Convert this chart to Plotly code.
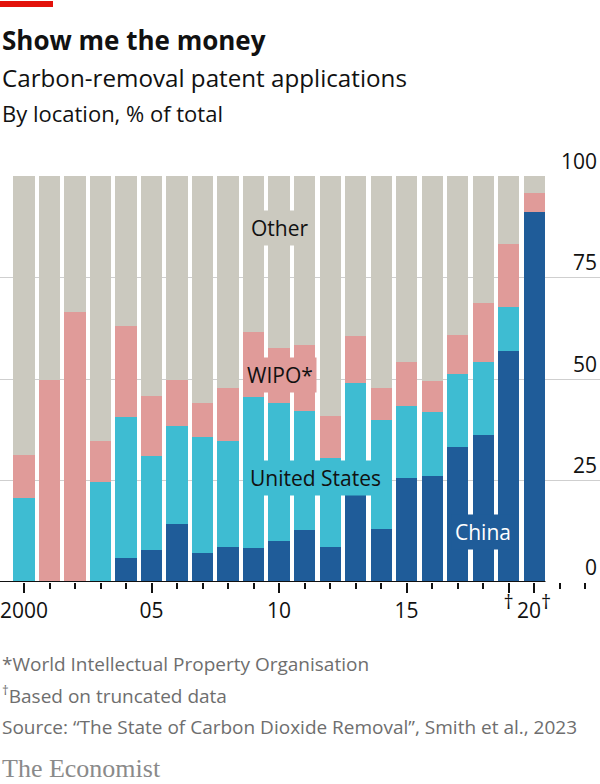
import plotly.graph_objects as go

years = list(range(2000, 2021))
china = [0, 0, 0, 0, 5.8, 8.0, 14.3, 7.2, 8.5, 8.3, 10.2, 12.8, 8.5, 21.5, 13.1, 25.6, 26.2, 33.2, 36.2, 57.0, 91.2]
united_states = [20.8, 0, 0, 24.7, 34.8, 23.0, 24.2, 28.4, 26.3, 37.3, 33.9, 29.4, 22.0, 27.6, 26.8, 17.7, 15.6, 18.0, 18.0, 10.7, 0]
wipo = [10.6, 49.8, 66.5, 10.0, 22.5, 14.7, 11.3, 8.4, 12.9, 16.0, 13.5, 16.1, 10.5, 11.5, 7.9, 10.8, 7.8, 9.6, 14.6, 15.6, 4.5]
other = [68.6, 50.2, 33.5, 65.3, 36.9, 54.3, 50.2, 56.0, 52.3, 38.4, 42.4, 41.7, 59.0, 39.4, 52.2, 45.9, 50.4, 39.2, 31.2, 16.7, 4.3]

DAG = '<sup><span style="font-size:20px">†</span></sup>'
tick_years = [2000, 2005, 2010, 2015, 2019, 2020]
tick_text = ["2000", "05", "10", "15", DAG, "20" + DAG]
y_ticks = [0, 25, 50, 75, 100]

C_CHINA = "#1F5C99"
C_US = "#3EBCD2"
C_WIPO = "#E09B99"
C_OTHER = "#CBC9BF"

W, H = 600, 784
TOP, BOT = 176, 202  # pixel margins
PH = H - TOP - BOT


def py(pix):
    """pixel y -> paper y"""
    return (H - BOT - pix) / PH


FONT = "Open Sans"

fig = go.Figure()
for name, vals, col in [("China", china, C_CHINA), ("United States", united_states, C_US),
                        ("WIPO*", wipo, C_WIPO), ("Other", other, C_OTHER)]:
    fig.add_trace(go.Bar(x=years, y=vals, name=name, marker=dict(color=col, line=dict(width=0))))

fig.update_layout(
    width=W, height=H,
    barmode="stack", bargap=0.176,
    showlegend=False,
    plot_bgcolor="white", paper_bgcolor="white",
    margin=dict(l=0, r=0, t=TOP, b=BOT, pad=0),
    font=dict(family=FONT, color="#111111"),
    xaxis=dict(
        range=[1999.059, 2022.588],
        tickmode="array", tickvals=tick_years, ticktext=tick_text,
        ticks="outside", ticklen=10, tickwidth=1.5, tickcolor="#111111",
        tickfont=dict(size=21, color="#111111", family=FONT),
        ticklabeloverflow="allow",
        minor=dict(ticks="outside", dtick=1, tick0=2000, ticklen=6, tickwidth=1.5, tickcolor="#111111"),
        showgrid=False, zeroline=False, showline=False,
        fixedrange=True,
    ),
    yaxis=dict(
        range=[0, 100],
        side="right",
        tickmode="array", tickvals=y_ticks,
        ticklabelposition="inside top",
        ticklabeloverflow="allow",
        ticks="",
        tickfont=dict(size=21, color="#111111", family=FONT),
        showgrid=True, gridcolor="#CFCFCF", gridwidth=1,
        zeroline=False, showline=False,
        fixedrange=True,
    ),
)

# baseline
fig.add_shape(type="line", xref="x", yref="y", x0=1999.059, x1=2020.45, y0=0, y1=0,
              line=dict(color="#111111", width=2))
# red bar
fig.add_shape(type="rect", xref="paper", yref="paper", x0=0, x1=53 / W, y0=py(7), y1=py(1),
              fillcolor="#E3120B", line=dict(width=0))

# series labels
labels = [
    ("Other", 2010.0, 228, "#111111", C_OTHER),
    ("WIPO*", 2010.05, 375, "#111111", C_WIPO),
    ("United States", 2011.45, 478, "#111111", C_US),
    ("China", 2018.0, 532, "#FFFFFF", C_CHINA),
]
for txt, xv, ypix, fc, bg in labels:
    fig.add_annotation(text=txt, x=xv, xref="x", y=py(ypix), yref="paper", showarrow=False,
                       xanchor="center", yanchor="middle",
                       font=dict(size=21, color=fc, family=FONT),
                       bgcolor=bg, borderpad=3)

# titles
fig.add_annotation(text="<b>Show me the money</b>", x=0, xref="paper", y=py(40), yref="paper",
                   showarrow=False, xanchor="left", yanchor="middle",
                   font=dict(size=26, color="#111111", family=FONT))
fig.add_annotation(text="Carbon-removal patent applications", x=0, xref="paper", y=py(78), yref="paper",
                   showarrow=False, xanchor="left", yanchor="middle",
                   font=dict(size=24.2, color="#111111", family=FONT))
fig.add_annotation(text="By location, % of total", x=0, xref="paper", y=py(113), yref="paper",
                   showarrow=False, xanchor="left", yanchor="middle",
                   font=dict(size=22, color="#111111", family=FONT))

# footnotes
foot = [
    ("*World Intellectual Property Organisation", 664),
    ("<sup>†</sup>Based on truncated data", 695),
    ("Source: “The State of Carbon Dioxide Removal”, Smith et al., 2023", 727),
]
for txt, ypix in foot:
    fig.add_annotation(text=txt, x=0, xref="paper", y=py(ypix), yref="paper",
                       showarrow=False, xanchor="left", yanchor="middle",
                       font=dict(size=19, color="#6E6E6E", family=FONT))
fig.add_annotation(text="The Economist", x=0, xref="paper", y=py(768), yref="paper",
                   showarrow=False, xanchor="left", yanchor="middle",
                   font=dict(size=26, color="#8A8A8A", family="Liberation Serif"))

fig.write_html("out.html", config={"displayModeBar": False},
               post_script="document.body.style.margin='0';document.body.style.padding='0';")
